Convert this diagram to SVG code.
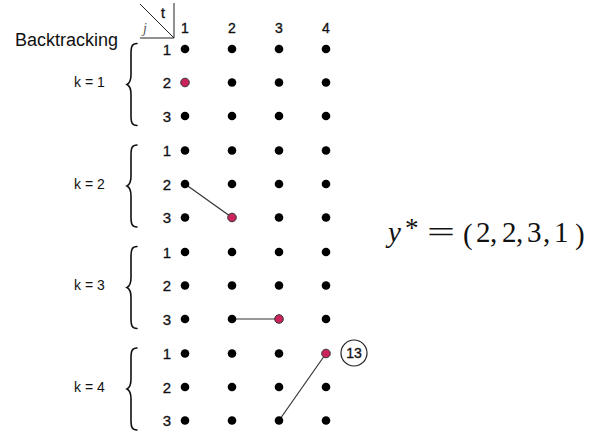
<svg xmlns="http://www.w3.org/2000/svg" width="607" height="438" viewBox="0 0 607 438">
<style>
.hdr{font-family:"Liberation Sans",Arial,sans-serif;font-size:14px;fill:#111;stroke:#111;stroke-width:0.35;text-anchor:middle}
.row{font-family:"Liberation Sans",Arial,sans-serif;font-size:15px;fill:#111;stroke:#111;stroke-width:0.3;text-anchor:end}
.k{font-family:"Liberation Sans",Arial,sans-serif;font-size:14px;fill:#111}
.d{fill:#000}
.r{fill:#c9245b;stroke:#333;stroke-width:1}
.brace{fill:none;stroke:#111;stroke-width:1.6;stroke-linecap:round}
.edge{stroke:#333;stroke-width:1.2;fill:none}
.eq{font-family:"Liberation Serif","Times New Roman",serif;font-size:29px;fill:#111}
</style>
<defs>
<g id="dot"><circle r="4.3" class="d"/></g>
</defs>

<g id="header">
<text x="15" y="46" font-family="Liberation Sans, Arial, sans-serif" font-size="18" fill="#111">Backtracking</text>
<line x1="140" y1="4" x2="174" y2="38" stroke="#222" stroke-width="1"/>
<line x1="140" y1="38" x2="174" y2="38" stroke="#222" stroke-width="1"/>
<line x1="174" y1="3" x2="174" y2="38" stroke="#222" stroke-width="1"/>
<text x="163" y="18" class="hdr" font-size="13" stroke-width="0.2">t</text>
<text x="145" y="33" font-family="Liberation Serif, serif" font-style="italic" font-size="14" fill="#555" text-anchor="middle">j</text>
<text x="185" y="33" class="hdr">1</text>
<text x="232" y="33" class="hdr">2</text>
<text x="279" y="33" class="hdr">3</text>
<text x="326" y="33" class="hdr">4</text>
</g>

<g id="connectors">
<line class="edge" x1="185" y1="184" x2="232" y2="217.5"/>
<line class="edge" x1="232" y1="319" x2="279" y2="319"/>
<line class="edge" x1="279" y1="420.5" x2="326" y2="353.5"/>
</g>

<g id="k1">
<text x="74" y="87" class="k">k = 1</text>
<path class="brace" d="M137,43.5 C132,43.5 131,46.5 131,53.5 L131,74.5 C131,81.5 129,83.5 127,84.5 C129,85.5 131,87.5 131,94.5 L131,115.5 C131,122.5 132,125.5 137,125.5"/>
<text x="171" y="54.5" class="row">1</text>
<text x="171" y="88" class="row">2</text>
<text x="171" y="121.5" class="row">3</text>
<use href="#dot" x="185" y="49"/><use href="#dot" x="232" y="49"/><use href="#dot" x="279" y="49"/><use href="#dot" x="326" y="49"/>
<circle cx="185" cy="82.5" r="4.3" class="r"/><use href="#dot" x="232" y="82.5"/><use href="#dot" x="279" y="82.5"/><use href="#dot" x="326" y="82.5"/>
<use href="#dot" x="185" y="116"/><use href="#dot" x="232" y="116"/><use href="#dot" x="279" y="116"/><use href="#dot" x="326" y="116"/>
</g>

<g id="k2">
<text x="74" y="188.5" class="k">k = 2</text>
<path class="brace" d="M137,145 C132,145 131,148 131,155 L131,176 C131,183 129,185 127,186 C129,187 131,189 131,196 L131,217 C131,224 132,227 137,227"/>
<text x="171" y="156" class="row">1</text>
<text x="171" y="189.5" class="row">2</text>
<text x="171" y="223" class="row">3</text>
<use href="#dot" x="185" y="150.5"/><use href="#dot" x="232" y="150.5"/><use href="#dot" x="279" y="150.5"/><use href="#dot" x="326" y="150.5"/>
<use href="#dot" x="185" y="184"/><use href="#dot" x="232" y="184"/><use href="#dot" x="279" y="184"/><use href="#dot" x="326" y="184"/>
<use href="#dot" x="185" y="217.5"/><circle cx="232" cy="217.5" r="4.3" class="r"/><use href="#dot" x="279" y="217.5"/><use href="#dot" x="326" y="217.5"/>
</g>

<g id="k3">
<text x="74" y="290" class="k">k = 3</text>
<path class="brace" d="M137,246.5 C132,246.5 131,249.5 131,256.5 L131,277.5 C131,284.5 129,286.5 127,287.5 C129,288.5 131,290.5 131,297.5 L131,318.5 C131,325.5 132,328.5 137,328.5"/>
<text x="171" y="257.5" class="row">1</text>
<text x="171" y="291" class="row">2</text>
<text x="171" y="324.5" class="row">3</text>
<use href="#dot" x="185" y="252"/><use href="#dot" x="232" y="252"/><use href="#dot" x="279" y="252"/><use href="#dot" x="326" y="252"/>
<use href="#dot" x="185" y="285.5"/><use href="#dot" x="232" y="285.5"/><use href="#dot" x="279" y="285.5"/><use href="#dot" x="326" y="285.5"/>
<use href="#dot" x="185" y="319"/><use href="#dot" x="232" y="319"/><circle cx="279" cy="319" r="4.3" class="r"/><use href="#dot" x="326" y="319"/>
</g>

<g id="k4">
<text x="74" y="391.5" class="k">k = 4</text>
<path class="brace" d="M137,348 C132,348 131,351 131,358 L131,379 C131,386 129,388 127,389 C129,390 131,392 131,399 L131,420 C131,427 132,430 137,430"/>
<text x="171" y="359" class="row">1</text>
<text x="171" y="392.5" class="row">2</text>
<text x="171" y="426" class="row">3</text>
<use href="#dot" x="185" y="353.5"/><use href="#dot" x="232" y="353.5"/><use href="#dot" x="279" y="353.5"/><circle cx="326" cy="353.5" r="4.3" class="r"/>
<use href="#dot" x="185" y="387"/><use href="#dot" x="232" y="387"/><use href="#dot" x="279" y="387"/><use href="#dot" x="326" y="387"/>
<use href="#dot" x="185" y="420.5"/><use href="#dot" x="232" y="420.5"/><use href="#dot" x="279" y="420.5"/><use href="#dot" x="326" y="420.5"/>
</g>

<g id="badge13">
<circle cx="354" cy="353" r="13" fill="#fff" stroke="#222" stroke-width="1.2"/>
<text x="354" y="358" class="hdr" font-size="14" stroke-width="0.25">13</text>
</g>

<g id="equation">
<text class="eq" y="242"><tspan x="388" font-style="italic">y</tspan><tspan x="405" y="237" font-size="27">*</tspan></text>
<text class="eq" x="427" y="242" textLength="28" lengthAdjust="spacingAndGlyphs">=</text>
<text class="eq" y="243.5" font-size="34"><tspan x="463">(</tspan><tspan x="575">)</tspan></text>
<text class="eq" y="242"><tspan x="476">2</tspan><tspan x="490">,</tspan><tspan x="502">2</tspan><tspan x="516">,</tspan><tspan x="527">3</tspan><tspan x="543">,</tspan><tspan x="554">1</tspan></text>
</g>
</svg>
